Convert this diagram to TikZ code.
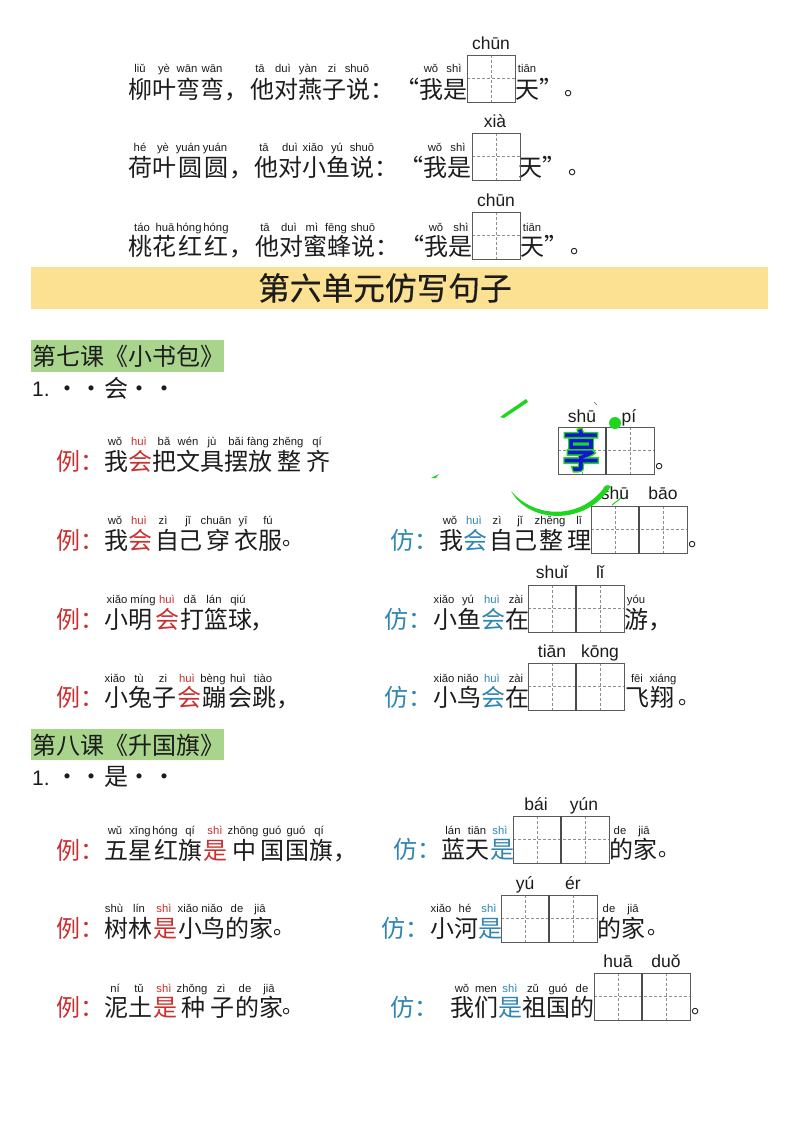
\documentclass[tikz,border=0pt]{standalone}
\usepackage{fontspec}
\setmainfont{Liberation Sans}
\newfontfamily\cjk{Noto Sans CJK SC}
\newfontfamily\cjkheavy[FakeBold=0.4]{Noto Sans CJK SC}
\newfontfamily\cjkink[FakeBold=2]{Noto Sans CJK SC}
\newfontfamily\cjkhalo[FakeBold=9]{Noto Sans CJK SC}
\definecolor{txt}{HTML}{1C1C1C}
\definecolor{exred}{HTML}{C9302F}
\definecolor{fangblue}{HTML}{2F86B5}
\definecolor{banner}{HTML}{FBE191}
\definecolor{lesson}{HTML}{A9D48C}
\definecolor{boxline}{HTML}{5A5A5A}
\definecolor{dashline}{HTML}{8E8E8E}
\definecolor{marker}{HTML}{1FD61F}
\definecolor{ink}{HTML}{1414D2}
\tikzset{
  han/.style={font=\cjk\fontsize{24}{24}\selectfont,inner sep=0pt,text=txt},
  stopmark/.style={font=\cjk\fontsize{21}{21}\selectfont,inner sep=0pt,text=txt,anchor=base west},
  pyin/.style={font=\fontsize{11.3}{12}\selectfont,inner sep=0pt,text=#1},
  pybig/.style={font=\fontsize{17.5}{18}\selectfont,inner sep=0pt,text=txt},
  cellbox/.style={draw=boxline,line width=0.9pt},
  celldash/.style={draw=dashline,line width=0.7pt,dash pattern=on 3pt off 2pt},
  celldiv/.style={draw=boxline!85!black,line width=1.3pt},
}
% \hz{y}{colour}{x/char,...}: x is the left edge of the character's square, y its middle
\newcommand{\hz}[3]{\foreach \xx/\cc in {#3}{\node[han,text=#2,anchor=base west] (h\xx-#1) at (\xx,#1+9) {\cc};}}
% \ring{cx}{cy}: full stop whose ring is centred on (cx,cy)
\newcommand{\ring}[2]{\node[stopmark] (r#1-#2) at (#1-4.4,#2+1.7) {。};}
% \py{y}{colour}{x/syllable,...}: x is the centre of the syllable
\newcommand{\py}[3]{\foreach \xx/\cc in {#3}{\node[pyin=#2,anchor=base] (p\xx-#1) at (\xx,#1+4) {\cc};}}
\newcommand{\pb}[2]{\foreach \xx/\cc in {#2}{\node[pybig,anchor=base] (b\xx-#1) at (\xx,#1+6) {\cc};}}
\newcommand{\onecell}[2]{
  \draw[celldash] (#1+24,#2) -- (#1+24,#2+47.5);
  \draw[celldash] (#1,#2+23.7) -- (#1+48,#2+23.7);
  \draw[cellbox] (#1,#2) rectangle (#1+48,#2+47.5);}
\newcommand{\twocell}[2]{
  \draw[celldash] (#1+24,#2) -- (#1+24,#2+47.5);
  \draw[celldash] (#1+72,#2) -- (#1+72,#2+47.5);
  \draw[celldash] (#1,#2+23.7) -- (#1+96,#2+23.7);
  \draw[cellbox] (#1,#2) rectangle (#1+96,#2+47.5);
  \draw[celldiv] (#1+48,#2) -- (#1+48,#2+47.5);}
\begin{document}
\begin{tikzpicture}[x=1pt,y=-1pt]
\useasboundingbox (0,0) rectangle (800,1132);
\fill[white] (0,0) rectangle (800,1132);

% top rows
\py{69}{txt}{140/liǔ,164/yè,187/wān,212/wān,260/tā,283/duì,308/yàn,332/zi,357/shuō,431/wǒ,454/shì,527/tiān}
\hz{89}{txt}{128/柳,152/叶,176/弯,200/弯,224/，,250/他,274/对,298/燕,322/子,346/说,370/：,395/“,419/我,443/是,515/天,539/”}
\ring{569}{94}
\onecell{467}{55}\pb{43}{491/chūn}
\py{147}{txt}{140/hé,163/yè,188/yuán,215/yuán,264/tā,290/duì,313/xiǎo,337/yú,362/shuō,435/wǒ,458/shì}
\hz{167}{txt}{128/荷,152/叶,178/圆,204/圆,229/，,254/他,278/对,302/小,326/鱼,350/说,374/：,399/“,423/我,447/是,518/天,542/”}
\ring{573}{173}
\onecell{472}{133}\pb{121}{495/xià}
\py{227}{txt}{142/táo,165/huā,189/hóng,216/hóng,265/tā,289/duì,312/mì,336/fēng,363/shuō,436/wǒ,461/shì,532/tiān}
\hz{246}{txt}{128/桃,152/花,178/红,204/红,229/，,255/他,279/对,303/蜜,327/蜂,351/说,375/：,400/“,424/我,448/是,520/天,544/”}
\ring{575}{252}
\onecell{472}{212}\pb{200}{496/chūn}

% banner
\fill[banner] (31,267) rectangle (768,309);
\node[font=\cjkheavy\fontsize{31.7}{32}\selectfont,text=txt,inner sep=0pt,anchor=base] (title) at (385,300) {第六单元仿写句子};

% lesson 7
\fill[lesson] (31,340) rectangle (224,372);
\node[han,anchor=base west] (l7) at (32,365) {第七课《小书包》};
\node[font=\fontsize{21}{22}\selectfont,text=txt,anchor=base west,inner sep=0pt] (n7) at (32,396) {1.};
\hz{388}{txt}{55/・,79/・,104/会,127/・,152/・}

% row 1
\hz{461}{exred}{56/例,80/：,128/会}
\py{441}{txt}{115/wǒ,164/bǎ,188/wén,212/jù,236/bǎi,258/fàng,288/zhěng,317/qí}
\py{441}{exred}{139/huì}
\hz{461}{txt}{104/我,152/把,176/文,200/具,224/摆,248/放,277/整,306/齐}
\twocell{558}{427}
\pb{416}{582/shū,629/pí}
\ring{660}{467}

% row 2
\hz{540}{exred}{56/例,80/：,128/会}
\py{520}{txt}{115/wǒ,163/zì,188/jǐ,216/chuān,243/yī,268/fú}
\py{520}{exred}{139/huì}
\hz{540}{txt}{104/我,155/自,178/己,206/穿,234/衣,258/服}
\ring{287}{544}
\hz{540}{fangblue}{390/仿,414/：,463/会}
\py{520}{txt}{450/wǒ,497/zì,520/jǐ,550/zhěng,579/lǐ}
\py{520}{fangblue}{474/huì}
\hz{540}{txt}{439/我,489/自,513/己,539/整,567/理}
\ring{693}{545}
\twocell{591}{506}\pb{493}{615/shū,663/bāo}

% row 3
\hz{619}{exred}{56/例,80/：,155/会}
\py{599}{txt}{117/xiǎo,143/míng,190/dǎ,214/lán,238/qiú}
\py{599}{exred}{167/huì}
\hz{619}{txt}{104/小,128/明,180/打,204/篮,228/球,250/，}
\hz{619}{fangblue}{384/仿,408/：,481/会}
\py{599}{txt}{444/xiǎo,468/yú,516/zài,636/yóu}
\py{599}{fangblue}{492/huì}
\hz{619}{txt}{433/小,457/鱼,505/在,624/游,648/，}
\twocell{528}{585}\pb{572}{552/shuǐ,600/lǐ}

% row 4
\hz{697}{exred}{56/例,80/：,177/会}
\py{678}{txt}{115/xiǎo,139/tù,163/zi,213/bèng,238/huì,263/tiào}
\py{678}{exred}{187/huì}
\hz{697}{txt}{104/小,128/兔,152/子,202/蹦,228/会,252/跳,276/，}
\hz{697}{fangblue}{384/仿,408/：,481/会}
\py{678}{txt}{444/xiǎo,468/niǎo,516/zài,637/fēi,663/xiáng}
\py{678}{fangblue}{492/huì}
\hz{697}{txt}{433/小,457/鸟,505/在,625/飞,650/翔}
\ring{683}{703}
\twocell{528}{663}\pb{651}{552/tiān,600/kōng}

% lesson 8
\fill[lesson] (31,729) rectangle (224,760);
\node[han,anchor=base west] (l8) at (32,754) {第八课《升国旗》};
\node[font=\fontsize{21}{22}\selectfont,text=txt,anchor=base west,inner sep=0pt] (n8) at (32,785) {1.};
\hz{776}{txt}{55/・,79/・,104/是,127/・,152/・}

% row 5
\hz{850}{exred}{56/例,80/：,203/是}
\py{830}{txt}{115/wǔ,140/xīng,165/hóng,190/qí,243/zhōng,272/guó,296/guó,319/qí}
\py{830}{exred}{215/shì}
\hz{850}{txt}{104/五,128/星,154/红,178/旗,232/中,260/国,285/国,309/旗,333/，}
\hz{849}{fangblue}{393/仿,417/：,490/是}
\py{830}{txt}{453/lán,477/tiān,620/de,644/jiā}
\py{830}{fangblue}{500/shì}
\hz{849}{txt}{441/蓝,465/天,609/的,633/家}
\ring{663}{855}
\twocell{513}{816}\pb{804}{536/bái,584/yún}

% row 6
\hz{928}{exred}{56/例,80/：,153/是}
\py{908}{txt}{114/shù,139/lín,188/xiǎo,212/niǎo,237/de,260/jiā}
\py{908}{exred}{164/shì}
\hz{928}{txt}{104/树,128/林,178/小,201/鸟,225/的,249/家}
\ring{278}{933}
\hz{928}{fangblue}{381/仿,405/：,478/是}
\py{908}{txt}{441/xiǎo,465/hé,609/de,633/jiā}
\py{908}{fangblue}{489/shì}
\hz{928}{txt}{430/小,454/河,597/的,621/家}
\ring{652}{933}
\twocell{501}{895}\pb{883}{525/yú,573/ér}

% row 7
\hz{1007}{exred}{56/例,80/：,153/是}
\py{988}{txt}{115/ní,139/tǔ,192/zhǒng,221/zi,245/de,269/jiā}
\py{988}{exred}{164/shì}
\hz{1007}{txt}{104/泥,128/土,181/种,210/子,235/的,259/家}
\ring{287}{1012}
\hz{1007}{fangblue}{390/仿,414/：,498/是}
\py{988}{txt}{462/wǒ,486/men,533/zǔ,558/guó,582/de}
\py{988}{fangblue}{510/shì}
\hz{1007}{txt}{450/我,474/们,522/祖,546/国,570/的}
\ring{696}{1012}
\twocell{594}{973}\pb{961}{618/huā,666/duǒ}

% green marker strokes and the highlighted character, over everything else
\node[font=\cjkhalo\fontsize{44}{44}\selectfont,text=marker,inner sep=0pt,anchor=base] (halo) at (581,467) {\scalebox{0.82}[1]{享}};
\node[font=\cjkink\fontsize{44}{44}\selectfont,text=ink,inner sep=0pt,anchor=base] (xiang) at (581,467) {\scalebox{0.82}[1]{享}};
\fill[marker] (615,423) circle (6);
\fill[marker] (500,417) -- (526,399) -- (528,402) -- (504,418) -- cycle;
\fill[marker] (431,478) -- (439,474) -- (436,478) -- cycle;
\fill[marker] (511,491) .. controls (530,525) and (588,525) .. (611,486)
  .. controls (606,484) and (604,486) .. (603,489) .. controls (580,519) and (535,519) .. (511,491) -- cycle;
\draw[marker,line width=1pt] (612,505) -- (621,498);
\draw[black!60,line width=0.5pt] (594,402) -- (597,405);
\end{tikzpicture}
\end{document}
